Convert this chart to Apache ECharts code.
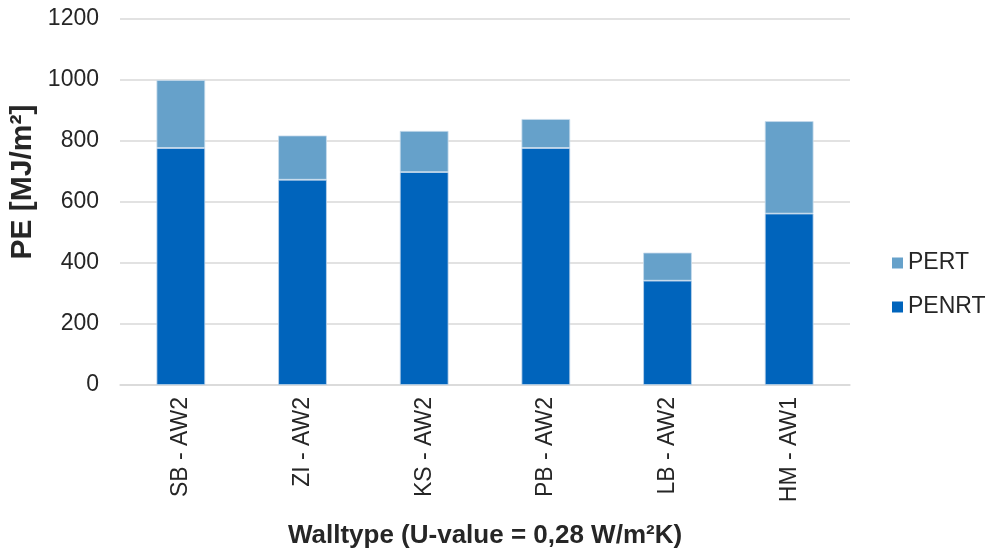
<!DOCTYPE html>
<html>
<head>
<meta charset="utf-8">
<script src="https://cdn.jsdelivr.net/npm/echarts@6/dist/echarts.min.js"></script>
<style>
  html, body { margin: 0; padding: 0; background: #fff; }
  #chart { width: 991px; height: 551px; }
</style>
</head>
<body>
<div id="chart"></div>
<script>
// Primary energy per wall type, split into non-renewable and renewable parts
const categories = ['SB - AW2', 'ZI - AW2', 'KS - AW2', 'PB - AW2', 'LB - AW2', 'HM - AW1'];
const penrt = [777, 673, 698, 777, 342, 562];
const pertTotal = [1000, 818, 833, 872, 434, 865];
const pert = pertTotal.map((t, i) => t - penrt[i]);

const chart = echarts.init(document.getElementById('chart'));
const labelFont = 'Arial, "Liberation Sans", sans-serif';
const textColor = '#262626';

chart.setOption({
  animation: false,
  grid: { left: 120, right: 141, top: 19, bottom: 166, outerBoundsMode: 'none', containLabel: false },
  legend: {
    orient: 'vertical',
    left: 892,
    top: 251,
    padding: 0,
    itemGap: 20,
    itemWidth: 11,
    itemHeight: 11,
    icon: 'rect',
    data: ['PERT', 'PENRT'],
    itemStyle: { borderWidth: 0 },
    textStyle: { fontFamily: labelFont, fontSize: 23, lineHeight: 24, color: textColor, padding: [0, 0, 0, 0] }
  },
  xAxis: {
    type: 'category',
    data: categories,
    name: 'Walltype (U-value = 0,28 W/m²K)',
    nameLocation: 'middle',
    nameGap: 138,
    nameMoveOverlap: false,
    nameTextStyle: { fontFamily: labelFont, fontWeight: 'bold', fontSize: 26, color: textColor },
    axisLine: { lineStyle: { color: '#d9d9d9', width: 1.5 } },
    axisTick: { show: false },
    axisLabel: {
      rotate: 90,
      margin: 12,
      fontFamily: labelFont,
      fontSize: 23,
      color: textColor
    }
  },
  yAxis: {
    type: 'value',
    min: 0,
    max: 1200,
    interval: 200,
    name: 'PE [MJ/m²]',
    nameLocation: 'middle',
    nameGap: 82,
    nameMoveOverlap: false,
    nameTextStyle: { fontFamily: labelFont, fontWeight: 'bold', fontSize: 30, color: textColor, padding: [0, 0, 0, 40] },
    axisLine: { show: false },
    axisTick: { show: false },
    axisLabel: {
      margin: 21,
      fontFamily: labelFont,
      fontSize: 23,
      color: textColor,
      formatter: (v) => String(v)
    },
    splitLine: { lineStyle: { color: '#d9d9d9', width: 1.5 } }
  },
  series: [
    {
      name: 'PENRT',
      type: 'bar',
      stack: 'pe',
      data: penrt,
      barWidth: '40%',
      itemStyle: { color: '#0064BC', borderColor: '#bcd3ea', borderWidth: 0.8 }
    },
    {
      name: 'PERT',
      type: 'bar',
      stack: 'pe',
      data: pert,
      barWidth: '40%',
      itemStyle: { color: '#66A1CA', borderColor: '#c8dcec', borderWidth: 0.8 }
    }
  ]
});
</script>
</body>
</html>
